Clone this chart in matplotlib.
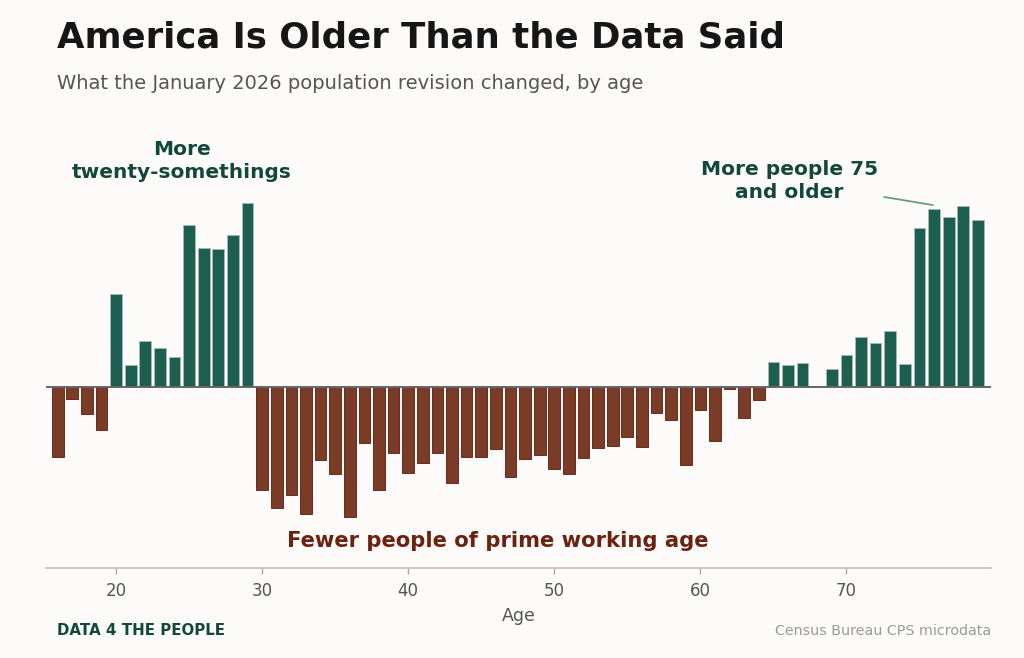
import numpy as np
import matplotlib.pyplot as plt

plt.rcParams['font.family'] = ['DejaVu Sans']

# change in population by single year of age (revision minus old estimate)
ages = list(range(16, 80))
change = [-70, -12, -27, -43, 93, 22, 46, 39, 30, 162, 139, 138, 152, 184,
          -103, -121, -108, -127, -73, -87, -130, -56, -103, -66, -86, -76,
          -66, -96, -70, -70, -62, -90, -72, -68, -82, -87, -71, -61, -59,
          -50, -60, -26, -33, -78, -23, -54, -2, -31, -13, 25, 22, 24, 1,
          18, 32, 50, 44, 56, 23, 159, 178, 170, 181, 167]

GREEN = '#1c5e50'
BROWN = '#7a3b27'
BG = '#fcfbf9'

fig = plt.figure(figsize=(10.24, 6.58), dpi=100, facecolor=BG)
ax = fig.add_axes([0.0449, 0.1368, 0.9229, 0.6656])
ax.set_facecolor(BG)

vals = np.array(change)
colors = [GREEN if v >= 0 else BROWN for v in vals]
edges = ['#a9b8b2' if v >= 0 else '#5e1a0c' for v in vals]
ax.bar(ages, vals, width=0.8, color=colors, edgecolor=edges, linewidth=0.6, zorder=2)
ax.axhline(0, color='#666666', lw=1.4, zorder=3)

ax.set_xlim(15.2, 79.9)
ax.set_ylim(-181.3, 256.7)
ax.set_yticks([])
for s in ['top', 'right', 'left']:
    ax.spines[s].set_visible(False)
ax.spines['bottom'].set_color('#c4c4c4')
ax.spines['bottom'].set_linewidth(1.3)
ax.set_xticks([20, 30, 40, 50, 60, 70])
ax.tick_params(axis='x', colors='#aaaaaa', length=4, width=1, labelcolor='#555555',
               labelsize=12, pad=6)
ax.set_xlabel('Age', fontsize=12.5, color='#555555', labelpad=5)

# annotations
ax.text(24.5, 225.7, 'More\ntwenty-somethings', ha='center', va='center',
        fontsize=14.5, fontweight='bold', color='#12473a', linespacing=1.25)
ax.text(66.1, 205.7, 'More people 75\nand older', ha='center', va='center',
        fontsize=14.5, fontweight='bold', color='#12473a', linespacing=1.25)
ax.plot([72.6, 75.9], [189.7, 181.7], color='#6a9a8a', lw=1.3)
ax.text(46.1, -154.3, 'Fewer people of prime working age', ha='center', va='center',
        fontsize=15.2, fontweight='bold', color='#6b2210')

# titles and footer
fig.text(0.0557, 0.928, 'America Is Older Than the Data Said', fontsize=25.6,
         fontweight='bold', color='#161616', va='baseline')
fig.text(0.0557, 0.864, 'What the January 2026 population revision changed, by age',
         fontsize=14, color='#555555', va='baseline')
fig.text(0.0557, 0.035, 'DATA 4 THE PEOPLE', fontsize=10.8, fontweight='bold',
         color='#12473a', va='baseline')
fig.text(0.9678, 0.035, 'Census Bureau CPS microdata', fontsize=10.3,
         color='#999999', ha='right', va='baseline')

fig.savefig('out.png', dpi=100, facecolor=BG)
